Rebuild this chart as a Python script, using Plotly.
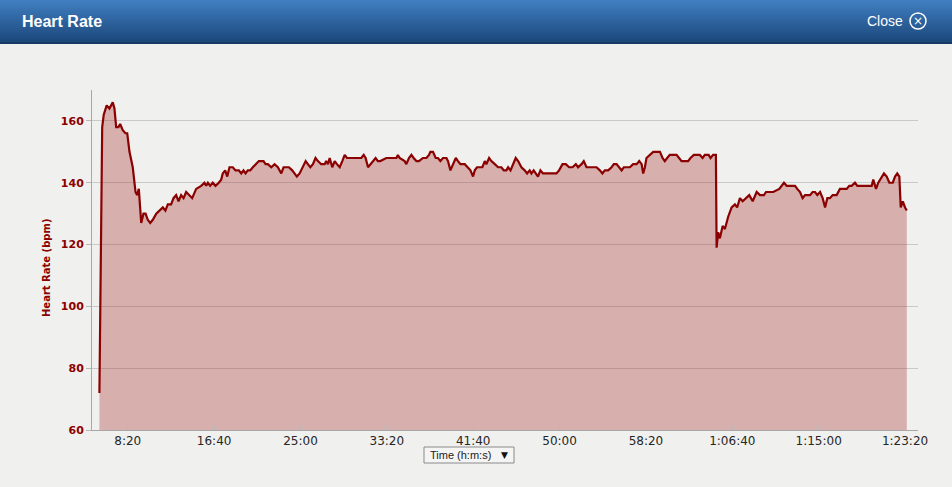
import plotly.graph_objects as go

# ---------------- data ----------------
time_s = [336, 352, 361, 378, 394, 404, 413, 423, 433, 446, 456, 471, 487, 497, 510, 529, 545, 554, 564, 578,
          591, 603, 616, 630, 645, 665, 684, 703, 718, 732, 751, 765, 780, 794, 809, 823, 838, 853, 873, 896,
          925, 944, 954, 964, 977, 992, 1008, 1027, 1041, 1050, 1064, 1076, 1089, 1108, 1124, 1143, 1157, 1170,
          1182, 1195, 1209, 1224, 1244, 1259, 1273, 1286, 1298, 1311, 1331, 1350, 1369, 1389, 1402, 1418, 1433,
          1452, 1466, 1479, 1495, 1514, 1530, 1543, 1557, 1572, 1587, 1601, 1620, 1640, 1649, 1659, 1669, 1684,
          1698, 1711, 1727, 1742, 1756, 1769, 1784, 1804, 1833, 1852, 1866, 1877, 1891, 1904, 1919, 1935, 1948,
          1962, 1997, 2055, 2064, 2074, 2103, 2113, 2128, 2142, 2155, 2171, 2186, 2209, 2229, 2244, 2252, 2267,
          2283, 2296, 2310, 2325, 2345, 2354, 2368, 2383, 2399, 2412, 2426, 2451, 2470, 2484, 2499, 2509, 2522,
          2538, 2553, 2567, 2576, 2592, 2605, 2625, 2644, 2663, 2677, 2692, 2702, 2716, 2731, 2746, 2760, 2779,
          2798, 2812, 2827, 2837, 2850, 2862, 2875, 2889, 2904, 2924, 2953, 2982, 2997, 3017, 3036, 3055, 3075,
          3094, 3107, 3127, 3140, 3156, 3175, 3194, 3214, 3233, 3248, 3262, 3281, 3301, 3314, 3330, 3345, 3359,
          3372, 3388, 3407, 3426, 3446, 3461, 3475, 3484, 3494, 3503, 3523, 3542, 3561, 3581, 3596, 3609, 3623,
          3638, 3658, 3677, 3692, 3706, 3725, 3744, 3758, 3777, 3797, 3812, 3828, 3841, 3863, 3874, 3889, 3905,
          3909, 3918, 3928, 3944, 3957, 3976, 3996, 4015, 4028, 4044, 4060, 4079, 4098, 4118, 4141, 4160, 4183,
          4195, 4208, 4237, 4272, 4286, 4299, 4315, 4334, 4363, 4376, 4392, 4407, 4421, 4450, 4465, 4479, 4492,
          4508, 4523, 4537, 4550, 4565, 4581, 4604, 4623, 4647, 4662, 4677, 4691, 4710, 4724, 4749, 4778, 4807,
          4816, 4832, 4845, 4865, 4878, 4894, 4909, 4929, 4942, 4955, 4967, 4975, 4987, 5000, 5010]

heart_rate = [72, 158, 162, 165, 164, 165, 166, 164, 158, 158, 159, 157, 156, 156, 150, 145, 137, 136, 138, 127,
              130, 130, 128, 127, 128, 130, 131, 132, 131, 133, 133, 135, 136, 134, 136, 135, 137, 136, 135, 138,
              139, 140, 139, 140, 139, 140, 139, 140, 141, 143, 144, 142, 145, 145, 144, 144, 143, 144,
              143, 144, 144, 145, 146, 147, 147, 147, 146, 146, 145, 146, 145, 143, 145, 145, 145,
              144, 143, 142, 143, 145, 147, 146, 145, 146, 148, 147, 146, 146, 147, 146, 148, 145,
              147, 146, 145, 147, 149, 148, 148, 148, 148, 148, 149, 148, 145, 146, 147, 148, 147,
              147, 148, 148, 149, 148, 147, 146, 148, 149, 148, 147, 147, 148, 148, 149, 150, 150,
              148, 148, 147, 148, 148, 147, 144, 146, 148, 147, 146, 146, 145, 144, 142, 144, 145,
              145, 145, 147, 146, 148, 147, 146, 145, 145, 144, 144, 145, 144, 146, 148, 147, 145,
              144, 143, 144, 143, 144, 143, 142, 144, 143, 143, 143, 143, 144, 146, 146, 145, 145,
              146, 145, 146, 147, 145, 145, 145, 145, 144, 143, 144, 144, 145, 146, 146, 145, 144,
              145, 145, 145, 146, 146, 147, 146, 143, 145, 148, 149, 150, 150, 150, 148, 147, 148,
              149, 149, 149, 148, 147, 147, 147, 148, 149, 149, 149, 148, 149, 149, 148, 149, 149,
              119, 124, 122, 126, 125, 129, 132, 133, 132, 135, 134, 135, 136, 134, 137, 136, 136,
              137, 137, 137, 138, 139, 140, 139, 139, 139, 138, 137, 135, 136, 136, 137, 137, 136,
              137, 135, 132, 135, 135, 136, 136, 138, 138, 138, 139, 139, 140, 139, 139, 139, 139,
              141, 138, 140, 142, 143, 142, 140, 140, 142, 143, 142, 132, 134, 132, 131]

x_tick_vals = [500, 1000, 1500, 2000, 2500, 3000, 3500, 4000, 4500, 5000]
x_tick_text = ["8:20", "16:40", "25:00", "33:20", "41:40", "50:00", "58:20", "1:06:40", "1:15:00", "1:23:20"]
y_tick_vals = [60, 80, 100, 120, 140, 160]

# ---------------- layout helpers ----------------
W, H = 952, 487
ML, MR, MT, MB = 92, 34, 90, 57
PW, PH = W - ML - MR, H - MT - MB


def fx(px):
    return (px - ML) / PW


def fy(py):
    return (H - MB - py) / PH


fig = go.Figure()
fig.add_trace(go.Scatter(
    x=time_s, y=heart_rate, mode="lines",
    line=dict(color="#8b0000", width=2.2),
    fill="tozeroy", fillcolor="rgba(160,30,25,0.3)",
    hoverinfo="skip", showlegend=False,
))

shapes = []
# header gradient band
top_c = (64, 126, 192)
bot_c = (28, 72, 124)
n = 21
for i in range(n):
    t = i / (n - 1)
    c = tuple(int(round(top_c[k] + (bot_c[k] - top_c[k]) * t)) for k in range(3))
    shapes.append(dict(type="rect", xref="paper", yref="paper",
                       x0=fx(0), x1=fx(W), y0=fy(i * 2 + 2), y1=fy(i * 2),
                       fillcolor="rgb(%d,%d,%d)" % c, line=dict(width=0), layer="above"))
shapes.append(dict(type="rect", xref="paper", yref="paper",
                   x0=fx(0), x1=fx(W), y0=fy(44), y1=fy(42),
                   fillcolor="#163a63", line=dict(width=0), layer="above"))
# close icon circle
shapes.append(dict(type="circle", xref="paper", yref="paper",
                   x0=fx(910), x1=fx(926), y0=fy(29), y1=fy(13),
                   line=dict(color="white", width=1.5), fillcolor="rgba(0,0,0,0)"))
# dropdown box
shapes.append(dict(type="rect", xref="paper", yref="paper",
                   x0=fx(424), x1=fx(514), y0=fy(463), y1=fy(447),
                   fillcolor="#f4f4f4", line=dict(color="#8a8a8a", width=1)))

annotations = [
    dict(text="<b>Heart Rate</b>", xref="paper", yref="paper", x=fx(20), y=fy(21),
         xanchor="left", yanchor="middle", showarrow=False,
         font=dict(family="Liberation Sans, Arial, sans-serif", size=16, color="white")),
    dict(text="Close", xref="paper", yref="paper", x=fx(905), y=fy(21),
         xanchor="right", yanchor="middle", showarrow=False,
         font=dict(family="Liberation Sans, Arial, sans-serif", size=14, color="white")),
    dict(text="×", xref="paper", yref="paper", x=fx(918), y=fy(21),
         xanchor="center", yanchor="middle", showarrow=False,
         font=dict(family="DejaVu Sans, sans-serif", size=12, color="white")),
    dict(text="<b>Heart Rate (bpm)</b>", xref="paper", yref="paper", x=fx(46), y=fy(268),
         xanchor="center", yanchor="middle", showarrow=False, textangle=-90,
         font=dict(family="DejaVu Sans, sans-serif", size=10, color="#8b0000")),
    dict(text="Time (h:m:s)", xref="paper", yref="paper", x=fx(428), y=fy(455),
         xanchor="left", yanchor="middle", showarrow=False,
         font=dict(family="Liberation Sans, Arial, sans-serif", size=11, color="#222")),
    dict(text="▼", xref="paper", yref="paper", x=fx(504), y=fy(455),
         xanchor="center", yanchor="middle", showarrow=False,
         font=dict(family="DejaVu Sans, sans-serif", size=9, color="#111")),
]

fig.update_layout(
    width=W, height=H,
    margin=dict(l=ML, r=MR, t=MT, b=MB, pad=0),
    paper_bgcolor="#f0f0ee", plot_bgcolor="#f0f0ee",
    shapes=shapes, annotations=annotations,
    showlegend=False,
    xaxis=dict(range=[293, 5075], tickmode="array", tickvals=x_tick_vals, ticktext=x_tick_text,
               showgrid=False, zeroline=False, showline=True, linecolor="#a8a8a8", linewidth=1,
               ticks="inside", ticklen=5, tickcolor="#b8b8b8",
               tickfont=dict(family="DejaVu Sans, sans-serif", size=12, color="#262626")),
    yaxis=dict(range=[60, 170], tickmode="array", tickvals=y_tick_vals,
               ticktext=["<b>%d</b>" % v for v in y_tick_vals],
               showgrid=True, gridcolor="#c9c9c9", gridwidth=1, zeroline=False,
               showline=True, linecolor="#a8a8a8", linewidth=1,
               ticks="outside", ticklen=5, tickcolor="#b8b8b8",
               tickfont=dict(family="DejaVu Sans, sans-serif", size=11, color="#8b0000")),
)

fig.write_html(
    "out.html",
    config={"displayModeBar": False},
    post_script="document.body.style.margin='0';document.body.style.background='#f0f0ee';document.body.style.overflow='hidden';",
)
